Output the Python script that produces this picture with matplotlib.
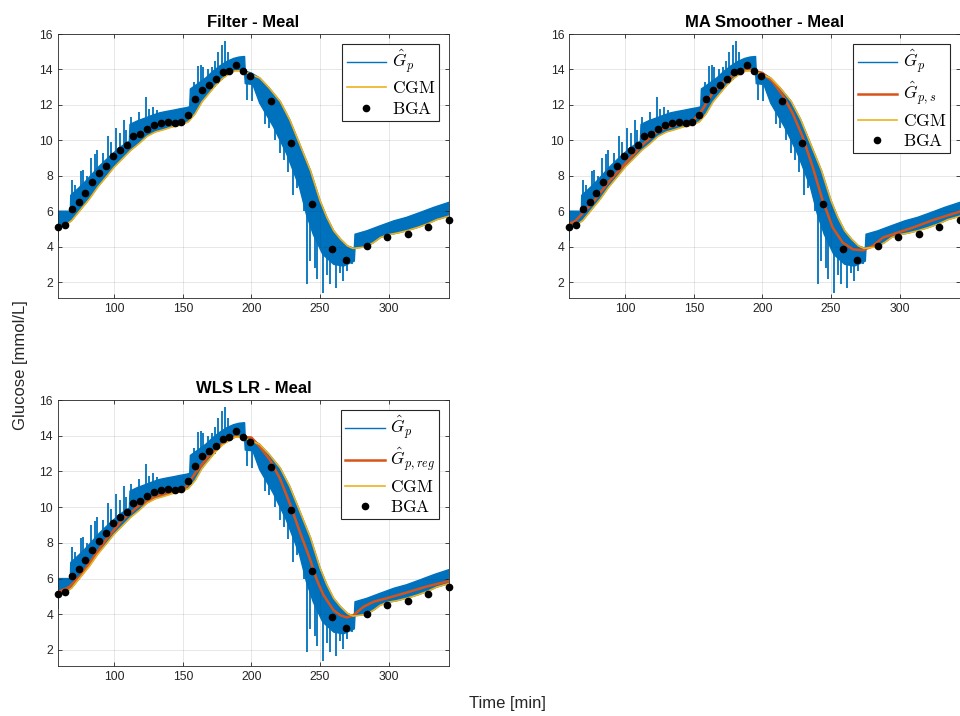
import numpy as np
import matplotlib
matplotlib.use('Agg')
import matplotlib.pyplot as plt

plt.rcParams['font.family'] = ['Liberation Sans', 'DejaVu Sans']
plt.rcParams['mathtext.fontset'] = 'cm'

# BGA reference samples [min, mmol/L]
bga_t = [59, 64, 69, 74, 79, 84, 89, 94, 99, 104, 109, 114, 119, 124, 129, 134, 139,
         144, 149, 154, 159, 164, 169, 174, 179, 184, 189, 194, 199, 214, 229, 244,
         259, 269, 284, 299, 314, 329, 344]
bga_v = [5.12, 5.22, 6.12, 6.52, 7.03, 7.62, 8.13, 8.55, 9.13, 9.44, 9.74, 10.23,
         10.34, 10.65, 10.84, 10.95, 11.04, 10.95, 11.02, 11.44, 12.33, 12.84, 13.14,
         13.45, 13.84, 13.94, 14.24, 13.94, 13.65, 12.24, 9.83, 6.43, 3.84, 3.23,
         4.03, 4.54, 4.73, 5.12, 5.52]

# CGM trace
cgm_t = [59, 64, 69, 75, 82, 88, 94, 100, 106, 112, 118, 124, 130, 136, 142, 148,
         154, 159, 164, 169, 174, 179, 184, 188, 193, 198, 206, 213, 221, 228, 235,
         243, 250, 255, 260, 265, 270, 274, 279, 284, 289, 294, 299, 306, 313, 321,
         328, 335, 344]
cgm_v = [5.1, 5.19, 5.47, 6.04, 6.7, 7.36, 7.92, 8.49, 8.96, 9.43, 9.81, 10.23,
         10.47, 10.6, 10.75, 10.85, 11.04, 11.5, 12.17, 12.64, 13.11, 13.49, 13.77,
         13.92, 13.92, 13.77, 13.52, 12.95, 12.19, 11.15, 9.82, 8.3, 6.6, 5.65, 4.89,
         4.42, 4.04, 3.9, 3.94, 4.0, 4.23, 4.51, 4.66, 4.76, 4.89, 5.08, 5.27, 5.52,
         5.72]

# estimated plasma glucose G_p: band of the fast oscillation (upper / lower edge)
gp_up_t = [59, 68, 68.3, 74, 79, 84, 89, 94, 99, 104, 111, 111.5, 117, 123, 128, 133,
           138, 143, 148, 153, 155, 155.5, 161, 167, 172, 177, 182, 187, 191, 195,
           195.5, 200, 206, 213, 221, 228, 235, 243, 250, 255, 260, 265, 270, 275,
           275.5, 284, 294, 304, 313, 323, 333, 344]
gp_up_v = [6.0, 6.0, 6.9, 7.3, 7.68, 8.1, 8.53, 8.9, 9.25, 9.6, 9.95, 10.9, 11.1,
           11.27, 11.42, 11.55, 11.63, 11.7, 11.78, 11.85, 11.9, 12.9, 13.2, 13.54,
           13.9, 14.2, 14.45, 14.62, 14.7, 14.73, 13.9, 13.8, 13.52, 12.95, 12.19,
           11.15, 9.82, 8.3, 6.6, 5.65, 4.89, 4.42, 4.04, 3.9, 4.7, 4.89, 5.18, 5.46,
           5.65, 5.93, 6.22, 6.5]
gp_lo_t = [59, 64, 69, 75, 82, 88, 94, 100, 106, 112, 118, 124, 130, 136, 142, 148,
           154, 159, 164, 169, 174, 179, 184, 188, 193, 195, 195.5, 201, 206, 216,
           225.6, 235, 240, 245, 252, 260, 267, 275, 275.5, 284, 289, 294, 299, 306,
           313, 321, 328, 335, 344]
gp_lo_v = [5.1, 5.2, 5.48, 6.05, 6.72, 7.38, 7.94, 8.51, 8.98, 9.45, 9.83, 10.25,
           10.49, 10.62, 10.77, 10.87, 11.06, 11.52, 12.19, 12.66, 13.13, 13.51, 13.79,
           13.94, 13.94, 13.85, 13.2, 13.15, 12.1, 10.77, 9.25, 7.36, 5.84, 4.7, 3.56,
           3.0, 2.9, 3.18, 3.92, 4.0, 4.23, 4.51, 4.66, 4.76, 4.89, 5.08, 5.27, 5.52,
           5.72]

# single-sample excursions of G_p (time, from, to)
spk_t = [59, 69.4, 71.5, 75.5, 77.2, 80, 82.8, 86, 87.6, 92, 95.6, 98, 101, 104, 107,
         108.7, 112.5, 118, 122.8, 125.2, 128.2, 131, 158, 161, 163.3, 164.8, 168,
         171.4, 173.8, 175.7, 178.2, 181, 183,
         197, 200.7, 209.8, 213, 217, 220.7, 224, 227, 230.5, 233, 238, 240.2, 243,
         246, 248, 252.4, 255, 257.5, 262, 264.5, 267, 270, 273]
spk_lo = [4.3, 6.5, 6.6, 6.8, 7.0, 7.2, 7.5, 7.8, 8.0, 8.3, 8.6, 8.8, 9.0, 9.2, 9.4,
          9.5, 9.8, 10.1, 10.3, 10.4, 10.5, 10.6, 11.5, 11.9, 12.1, 12.2, 12.6, 12.9,
          13.0, 13.2, 13.4, 13.6, 13.7,
          12.3, 12.2, 10.9, 10.7, 10.0, 9.3, 8.9, 8.2, 6.9, 7.3, 6.0, 1.9, 3.2, 2.8,
          2.2, 1.38, 2.4, 1.9, 1.67, 2.5, 2.05, 2.6, 3.0]
spk_hi = [5.5, 7.74, 7.5, 8.26, 8.3, 8.0, 9.0, 9.25, 9.47, 9.3, 10.23, 9.9, 10.72,
          10.4, 11.17, 10.57, 11.3, 11.6, 12.42, 11.74, 11.89, 11.7, 13.3, 14.2, 14.25,
          14.15, 14.0, 14.15, 14.5, 15.0, 15.38, 15.62, 15.0,
          13.9, 13.7, 12.9, 12.5, 11.8, 11.3, 10.8, 10.3, 9.5, 9.0, 8.0, 6.5, 5.5, 5.0,
          4.6, 4.0, 3.8, 3.6, 3.4, 3.3, 3.2, 3.2, 3.3]

# moving-average smoothed G_p,s
gps_t = [59, 63.4, 75.6, 87.8, 100, 112.2, 124.4, 136.6, 148.8, 156, 163.4, 173.2,
         183, 190.2, 200, 207.3, 214.6, 222, 229.3, 236.6, 243.9, 251.2, 258.5, 265.9,
         273.2, 280.5, 287.8, 295.1, 309.8, 324.4, 344]
gps_v = [5.3, 5.43, 6.42, 7.64, 8.68, 9.72, 10.57, 10.85, 11.04, 11.7, 12.64, 13.4,
         13.87, 14.0, 13.8, 13.33, 12.57, 11.53, 10.2, 8.5, 6.6, 5.08, 4.23, 3.85,
         3.79, 4.04, 4.51, 4.7, 5.08, 5.5, 5.98]

# WLS linear-regression G_p,reg
gpr_t = [59, 67, 75.5, 81.6, 93.7, 105.8, 118, 130, 142.2, 151.9, 159.2, 168.9,
         178.6, 188.3, 200, 206, 213.4, 220.7, 228, 235.4, 242.7, 247.6, 252.4, 259.8,
         264.6, 269.5, 274.4, 281.7, 289, 298.8, 313.4, 328, 344]
gpr_v = [5.25, 5.51, 6.17, 6.83, 8.15, 9.28, 10.08, 10.6, 10.83, 11.08, 11.92, 12.87,
         13.53, 13.96, 13.9, 13.4, 12.66, 11.62, 10.2, 8.59, 7.08, 5.94, 5.09, 4.23,
         3.95, 3.82, 3.95, 4.42, 4.7, 4.9, 5.22, 5.56, 5.86]

C_BLUE = '#0072BD'
C_RED = '#D95319'
C_YEL = '#EDB120'


def draw_panel(ax, title, smooth=None, smooth_label=None):
    ax.fill(np.r_[gp_up_t, gp_lo_t[::-1]], np.r_[gp_up_v, gp_lo_v[::-1]],
            color=C_BLUE, lw=0)
    ax.vlines(spk_t, spk_lo, spk_hi, color=C_BLUE, lw=1.3)
    ax.plot(gp_up_t, gp_up_v, color=C_BLUE, lw=1.0, label=r'$\hat{G}_p$')
    ax.plot(gp_lo_t, gp_lo_v, color=C_BLUE, lw=1.0)
    if smooth is not None:
        ax.plot(smooth[0], smooth[1], color=C_RED, lw=1.8, label=smooth_label)
    ax.plot(cgm_t, cgm_v, color=C_YEL, lw=1.2, label=r'$\mathrm{CGM}$')
    ax.plot(bga_t, bga_v, 'o', color='k', ms=4.5, label=r'$\mathrm{BGA}$',
            clip_on=False, zorder=5)
    ax.set_xlim(59, 344)
    ax.set_ylim(1.1, 16)
    ax.set_xticks([100, 150, 200, 250, 300])
    ax.set_yticks([2, 4, 6, 8, 10, 12, 14, 16])
    ax.grid(True, color='#262626', alpha=0.13, lw=0.6)
    ax.tick_params(direction='in', length=3, width=0.6, labelsize=8.8,
                   colors='#262626', top=True, right=True)
    for s in ax.spines.values():
        s.set_color('#262626')
        s.set_linewidth(0.6)
    ax.set_title(title, fontsize=12, fontweight='bold', pad=5)
    leg = ax.legend(loc='upper right', prop={'size': 12.5}, fancybox=False,
                    framealpha=1, edgecolor='#262626', handlelength=2.3,
                    handletextpad=0.3, borderpad=0.25, labelspacing=0.25,
                    borderaxespad=0.55, numpoints=1)
    leg.get_frame().set_linewidth(0.8)


fig = plt.figure(figsize=(9.6, 7.16), dpi=100)
ax1 = fig.add_axes([0.0604, 0.5838, 0.4073, 0.3687])
ax2 = fig.add_axes([0.5927, 0.5838, 0.4073, 0.3687])
ax3 = fig.add_axes([0.0604, 0.0698, 0.4073, 0.3715])

draw_panel(ax1, 'Filter - Meal')
draw_panel(ax2, 'MA Smoother - Meal', (gps_t, gps_v), r'$\hat{G}_{p,s}$')
draw_panel(ax3, 'WLS LR - Meal', (gpr_t, gpr_v), r'$\hat{G}_{p,reg}$')

fig.text(0.021, 0.49, 'Glucose [mmol/L]', rotation=90, ha='center', va='center',
         fontsize=12, color='#262626')
fig.text(0.529, 0.018, 'Time [min]', ha='center', va='center', fontsize=12,
         color='#262626')

fig.savefig('out.png', dpi=100)
